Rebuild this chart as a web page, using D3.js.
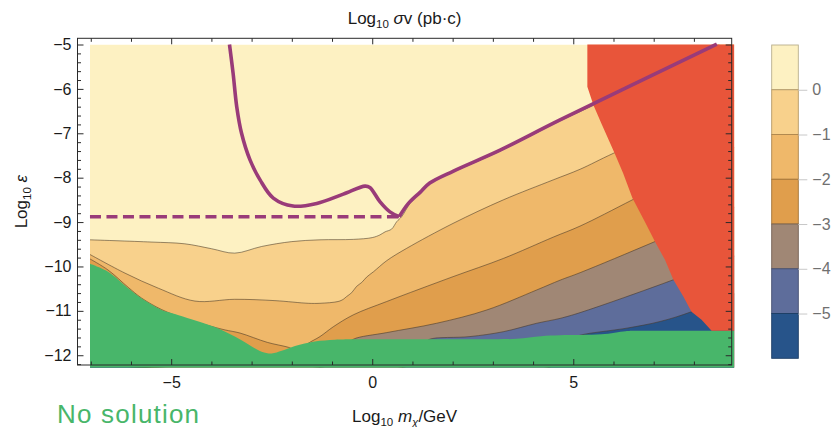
<!DOCTYPE html>
<html>
<head>
<meta charset="utf-8">
<script src="https://cdn.jsdelivr.net/npm/d3@7"></script>
<style>
  html, body { margin: 0; padding: 0; background: #fff; }
  svg { display: block; font-family: "Liberation Sans", Arial, Helvetica, sans-serif; }
</style>
</head>
<body>
<svg id="chart" width="835" height="427"></svg>
<script>
// ---- contour levels of log10 σv and their band colours (top band first) ----
const levels = [0, -1, -2, -3, -4, -5];
const bandColors = ["#FDF1C2", "#F8D18C", "#EFB86A", "#E09E4C", "#A08775", "#5E6D9B", "#27548A"];

// ---- contour lines: [log10 m, log10 ε] ----
const contour0 = [[-7.02,-9.40],[-5.5,-9.45],[-4.66,-9.49],[-4.0,-9.60],[-3.42,-9.70],[-2.75,-9.55],
  [-2.0,-9.44],[-1.3,-9.40],[-0.47,-9.39],[0.0,-9.35],[0.19,-9.29],[0.32,-9.22],[0.48,-9.16],
  [0.61,-8.99],[0.73,-8.88],[0.94,-8.58],[1.2,-8.33],[1.43,-8.13],[2.02,-7.87],[3.18,-7.40],
  [4.67,-6.72],[5.5,-6.37],[9.05,-4.80]];
const contour1 = [[-7.02,-9.73],[-6.15,-10.15],[-5.32,-10.49],[-4.41,-10.78],[-3.42,-10.74],
  [-2.42,-10.77],[-1.59,-10.83],[-1.3,-10.83],[-0.85,-10.79],[-0.72,-10.74],[-0.64,-10.68],
  [-0.51,-10.59],[-0.39,-10.45],[-0.26,-10.36],[-0.14,-10.24],[0.03,-10.12],[0.36,-9.87],
  [0.86,-9.59],[2.01,-9.03],[3.26,-8.50],[4.50,-8.05],[5.17,-7.81],[6.0,-7.45],[9.05,-6.25]];
const contour2 = [[-7.02,-9.83],[-6.57,-10.08],[-6.07,-10.47],[-5.74,-10.71],[-5.24,-10.97],
  [-4.62,-11.19],[-3.96,-11.36],[-3.66,-11.43],[-3.29,-11.50],[-2.61,-11.71],[-2.09,-11.82],
  [-1.9,-11.88],[-1.68,-11.80],[-1.59,-11.73],[-1.3,-11.58],[-0.97,-11.36],[-0.47,-11.09],
  [0.36,-10.79],[2.01,-10.23],[3.26,-9.82],[4.50,-9.34],[5.17,-9.09],[6.49,-8.49],[9.05,-7.3]];
const contour3 = [[-7.02,-12.2],[-1.0,-12.2],[-0.62,-11.76],[-0.47,-11.64],[0.36,-11.49],
  [1.60,-11.28],[2.85,-10.98],[4.09,-10.53],[4.67,-10.31],[5.17,-10.14],[7.03,-9.44],[9.05,-8.65]];
const contour4 = [[-7.02,-12.2],[1.0,-12.2],[1.32,-11.72],[1.43,-11.64],[2.43,-11.58],
  [3.26,-11.47],[4.09,-11.28],[4.67,-11.17],[5.17,-11.04],[7.49,-10.30],[9.05,-9.75]];
const contour5 = [[-7.02,-12.2],[4.6,-12.2],[5.0,-11.62],[5.17,-11.55],[6.33,-11.39],
  [7.16,-11.24],[7.94,-11.02],[9.05,-10.6]];
const contours = [contour0, contour1, contour2, contour3, contour4, contour5];

// ---- "no solution" region: upper edge ----
const noSolutionEdge = [[-7.02,-9.94],[-6.57,-10.12],[-6.07,-10.49],[-5.72,-10.73],[-5.24,-10.98],
  [-5.0,-11.05],[-4.6,-11.16],[-3.9,-11.37],[-3.25,-11.66],[-2.75,-11.92],[-2.5,-11.96],
  [-2.25,-11.90],[-1.92,-11.79],[-1.43,-11.69],[-0.93,-11.65],[-0.47,-11.64],[1.2,-11.64],
  [2.85,-11.64],[3.6,-11.63],[4.2,-11.57],[4.67,-11.55],[5.7,-11.53],[6.3,-11.46],[6.5,-11.45],
  [9.0,-11.45]];

// ---- excluded region on the right: left edge, top to bottom ----
const excludedEdge = [[5.35,-5.0],[5.35,-5.95],[5.50,-6.36],[5.71,-6.80],[6.02,-7.43],[6.24,-7.90],
  [6.47,-8.46],[6.78,-8.99],[7.03,-9.44],[7.28,-9.85],[7.49,-10.30],[7.74,-10.68],[7.94,-11.02],
  [8.19,-11.20],[8.44,-11.45]];

// ---- relic curve ----
const relicLeft = [[-3.55,-5.0],[-3.46,-5.65],[-3.37,-6.40],[-3.25,-7.00],[-3.04,-7.60],[-2.79,-8.05],
  [-2.46,-8.46],[-1.97,-8.64],[-1.38,-8.58],[-0.72,-8.37],[-0.18,-8.19],[-0.06,-8.22],[0.19,-8.54],
  [0.44,-8.77],[0.67,-8.88]];
const relicRight = [[0.67,-8.88],[0.90,-8.58],[1.19,-8.33],[1.43,-8.12],[2.02,-7.85],[3.18,-7.38],
  [4.67,-6.70],[8.57,-4.99]];
const relicFloor = [[-7.02,-8.88],[0.67,-8.88]];

// ---- axis ticks ----
const xMajorTicks = [-5, 0, 5];
const xMinorTicks = [-7, -6, -4, -3, -2, -1, 1, 2, 3, 4, 6, 7, 8];
const yMajorTicks = [-5, -6, -7, -8, -9, -10, -11, -12];
const yMinorTicks = d3.range(-5, -12.21, -0.2).map(v => +v.toFixed(1)).filter(v => !Number.isInteger(v));

// ---- layout ----
const xMin = -7.02, xMax = 9.0, yTop = -5.0, yBottom = -12.28;
const x = d3.scaleLinear().domain([-7.33, 8.94]).range([77.5, 731.7]);
const y = d3.scaleLinear().domain([-4.86, -12.22]).range([38.3, 365]);
const cb = d3.scaleLinear().domain([1, -6]).range([45, 358.3]);

const svg = d3.select("#chart");
const fmt = d => d < 0 ? "\u2212" + Math.abs(d) : String(d);

svg.append("defs").append("clipPath").attr("id", "dataClip")
  .append("rect")
  .attr("x", x(xMin)).attr("y", y(yTop))
  .attr("width", x(xMax) - x(xMin)).attr("height", y(yBottom) - y(yTop));

const plot = svg.append("g").attr("clip-path", "url(#dataClip)");

// background band (above the 0 contour)
plot.append("rect")
  .attr("x", x(xMin)).attr("y", y(yTop))
  .attr("width", x(xMax) - x(xMin)).attr("height", y(yBottom) - y(yTop))
  .attr("fill", bandColors[0]);

const smooth = d3.curveCatmullRom.alpha(0.5);
const areaBelow = d3.area().x(d => x(d[0])).y0(y(yBottom)).y1(d => y(d[1])).curve(smooth);
const lineGen = d3.line().x(d => x(d[0])).y(d => y(d[1])).curve(smooth);

contours.forEach((c, i) => {
  plot.append("path").attr("d", areaBelow(c)).attr("fill", bandColors[i + 1]);
});
contours.forEach(c => {
  plot.append("path").attr("d", lineGen(c))
    .attr("fill", "none").attr("stroke", "rgba(70,55,40,0.7)").attr("stroke-width", 0.8);
});

// no-solution region
plot.append("path")
  .attr("d", areaBelow(noSolutionEdge))
  .attr("fill", "#48B66A");

// excluded region (closed along the right and top edges of the data area)
const excludedPoly = excludedEdge.concat([[xMax + 0.1, -11.45], [xMax + 0.1, yTop + 0.1], [5.35, yTop + 0.1]]);
plot.append("path")
  .attr("d", d3.line().x(d => x(d[0])).y(d => y(d[1])).curve(d3.curveLinearClosed)(excludedPoly))
  .attr("fill", "#E8553A");

// relic curve
const relic = svg.append("g").attr("fill", "none").attr("stroke", "#993B79")
  .attr("stroke-width", 3.6).attr("stroke-linejoin", "round").attr("stroke-linecap", "butt");
relic.append("path").attr("d", lineGen(relicLeft));
relic.append("path").attr("d", lineGen(relicRight));
relic.append("path").attr("d", d3.line().x(d => x(d[0])).y(d => y(d[1]))(relicFloor))
  .attr("stroke-dasharray", "11,5.5");

// frame
const X0 = x.range()[0], X1 = x.range()[1], Y0 = y.range()[0], Y1 = y.range()[1];
svg.append("rect").attr("x", X0).attr("y", Y0).attr("width", X1 - X0).attr("height", Y1 - Y0)
  .attr("fill", "none").attr("stroke", "#2a2a2a").attr("stroke-width", 1);

function styleAxis(g) {
  g.select(".domain").remove();
  g.selectAll(".tick line").attr("stroke", "#2a2a2a");
  g.selectAll("text").attr("fill", "#1a1a1a").style("font-size", "16px")
    .style("font-family", "'Liberation Sans', Arial, sans-serif");
}
// bottom
svg.append("g").attr("transform", `translate(0,${Y1})`)
  .call(d3.axisBottom(x).tickValues(xMinorTicks).tickSize(-3.5).tickSizeOuter(0).tickFormat(""))
  .call(styleAxis);
svg.append("g").attr("transform", `translate(0,${Y1})`)
  .call(d3.axisBottom(x).tickValues(xMajorTicks).tickSize(-6).tickSizeOuter(0).tickPadding(11.6).tickFormat(fmt))
  .call(styleAxis);
// top
svg.append("g").attr("transform", `translate(0,${Y0})`)
  .call(d3.axisTop(x).tickValues(xMinorTicks).tickSize(-3.5).tickSizeOuter(0).tickFormat(""))
  .call(styleAxis);
svg.append("g").attr("transform", `translate(0,${Y0})`)
  .call(d3.axisTop(x).tickValues(xMajorTicks).tickSize(-6).tickSizeOuter(0).tickFormat(""))
  .call(styleAxis);
// left
svg.append("g").attr("transform", `translate(${X0},0)`)
  .call(d3.axisLeft(y).tickValues(yMinorTicks).tickSize(-3.5).tickSizeOuter(0).tickFormat(""))
  .call(styleAxis);
svg.append("g").attr("transform", `translate(${X0},0)`)
  .call(d3.axisLeft(y).tickValues(yMajorTicks).tickSize(-6).tickSizeOuter(0).tickPadding(6).tickFormat(fmt))
  .call(styleAxis);
// right
svg.append("g").attr("transform", `translate(${X1},0)`)
  .call(d3.axisRight(y).tickValues(yMinorTicks).tickSize(-3.5).tickSizeOuter(0).tickFormat(""))
  .call(styleAxis);
svg.append("g").attr("transform", `translate(${X1},0)`)
  .call(d3.axisRight(y).tickValues(yMajorTicks).tickSize(-6).tickSizeOuter(0).tickFormat(""))
  .call(styleAxis);

// titles
const midX = (X0 + X1) / 2;
const titleTop = svg.append("text").attr("x", midX).attr("y", 24).attr("text-anchor", "middle")
  .style("font-size", "17px").attr("fill", "#1a1a1a");
titleTop.append("tspan").text("Log");
titleTop.append("tspan").text("10").style("font-size", "11.5px").attr("dy", 4);
titleTop.append("tspan").text(" ").attr("dy", -4);
titleTop.append("tspan").text("\u03C3").style("font-style", "italic");
titleTop.append("tspan").text("v (pb\u00B7c)");

const titleBottom = svg.append("text").attr("x", midX).attr("y", 421.5).attr("text-anchor", "middle")
  .style("font-size", "17px").attr("fill", "#1a1a1a");
titleBottom.append("tspan").text("Log");
titleBottom.append("tspan").text("10").style("font-size", "11.5px").attr("dy", 4);
titleBottom.append("tspan").text(" ").attr("dy", -4);
titleBottom.append("tspan").text("m").style("font-style", "italic");
titleBottom.append("tspan").text("\u03C7").style("font-style", "italic").style("font-size", "11.5px").attr("dy", 4);
titleBottom.append("tspan").text("/GeV").attr("dy", -4);

const titleLeft = svg.append("text")
  .attr("transform", `translate(27,${(Y0 + Y1) / 2}) rotate(-90)`)
  .attr("text-anchor", "middle").style("font-size", "17px").attr("fill", "#1a1a1a");
titleLeft.append("tspan").text("Log");
titleLeft.append("tspan").text("10").style("font-size", "11.5px").attr("dy", 4);
titleLeft.append("tspan").text(" ").attr("dy", -4);
titleLeft.append("tspan").text("\u03B5").style("font-style", "italic");

svg.append("text").attr("x", 57).attr("y", 422.5).text("No solution")
  .style("font-size", "26px").style("letter-spacing", "1.2px").attr("fill", "#48B66A");

// colour legend
const cbX = 771.7, cbW = 26.6;
const bands = [1].concat(levels).map((hi, i) => ({ hi, lo: hi - 1, color: bandColors[i] }));
const legend = svg.append("g");
legend.selectAll("rect").data(bands).join("rect")
  .attr("x", cbX).attr("y", d => cb(d.hi))
  .attr("width", cbW).attr("height", d => cb(d.lo) - cb(d.hi))
  .attr("fill", d => d.color)
  .attr("stroke", d => d3.color(d.color).darker(0.9))
  .attr("stroke-width", 0.9);
legend.append("g").attr("transform", `translate(${cbX + cbW},0)`)
  .call(d3.axisRight(cb).tickValues(levels).tickSize(9).tickSizeOuter(0).tickPadding(5).tickFormat(fmt))
  .call(g => {
    g.select(".domain").remove();
    g.selectAll(".tick line").attr("stroke", "#c8c8c8");
    g.selectAll("text").attr("fill", "#707070").style("font-size", "16px");
  });
</script>
</body>
</html>
